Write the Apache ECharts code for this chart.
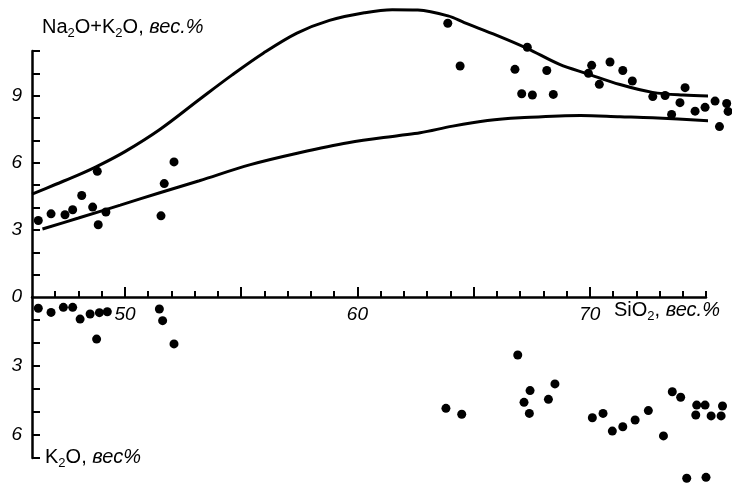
<!DOCTYPE html>
<html><head><meta charset="utf-8">
<script src="https://cdn.jsdelivr.net/npm/echarts@6/dist/echarts.min.js"></script>
<style>html,body{margin:0;padding:0;background:#fff}#c{width:732px;height:483px}</style>
</head><body><div id="c"></div>
<script>
// SiO2 (wt.%) vs Na2O+K2O (wt.%), upper panel
const upperPoints = [
  [46.27,3.42],[46.82,3.72],[47.42,3.68],[47.75,3.90],[48.14,4.54],[48.61,4.02],[48.81,5.62],[48.85,3.23],[49.18,3.80],
  [51.55,3.63],[51.69,5.07],[52.11,6.04],
  [63.89,12.24],[64.42,10.33],[66.78,10.18],[67.31,11.17],[68.15,10.13],[67.07,9.09],[67.53,9.03],[68.43,9.06],
  [70.08,10.36],[69.94,10.0],[70.87,10.51],[70.41,9.51],[71.42,10.13],[71.83,9.66],[72.71,8.96],[73.24,9.01],
  [74.10,9.36],[73.88,8.69],[73.52,8.16],[74.53,8.31],[74.96,8.48],[75.39,8.76],[75.89,8.65],[75.95,8.30],[75.58,7.62]
];
// SiO2 vs K2O (wt.%), lower panel (drawn downward)
const lowerPoints = [
  [46.27,0.49],[46.82,0.67],[47.35,0.45],[47.75,0.45],[48.07,0.96],[48.5,0.74],[48.9,0.68],[49.24,0.64],[48.78,1.83],
  [51.48,0.52],[51.62,1.03],[52.11,2.04],
  [63.81,4.84],[64.49,5.10],[66.90,2.52],[67.43,4.07],[67.17,4.58],[67.40,5.06],[68.22,4.45],[68.50,3.78],
  [70.11,5.25],[70.57,5.06],[70.97,5.83],[71.42,5.64],[71.95,5.35],[72.52,4.94],[73.17,6.04],[73.55,4.12],
  [73.91,4.36],[74.60,4.70],[74.96,4.70],[74.56,5.13],[75.22,5.17],[75.65,5.17],[75.71,4.74],[74.17,7.88],[75.0,7.84]
];
// boundary curves
const upperCurve = [
  [46,4.6],[47,5.03],[48,5.46],[48.8,5.84],[50,6.5],[51.5,7.49],[53.2,8.83],[54.6,9.92],[55.95,10.9],[57.4,11.8],
  [58.8,12.37],[60.3,12.71],[61.5,12.85],[62.6,12.83],[63.9,12.57],[64.6,12.27],[66,11.7],[67.3,11.12],[68.7,10.4],
  [69.9,9.98],[71.3,9.5],[72.7,9.15],[74,9.03],[75.5,8.98]
];
const lowerCurve = [
  [46.45,3.04],[48,3.53],[49.8,4.11],[51.5,4.66],[53.2,5.2],[55.4,5.92],[57.5,6.45],[59.6,6.9],[61.8,7.22],
  [62.7,7.34],[64.1,7.64],[65.6,7.89],[67,8.01],[69.6,8.12],[71.3,8.06],[72.7,8.01],[75.5,7.86]
];
const xMinorTicks = [47,48,49,51,52,53,54,56,57,58,59,61,62,63,64,66,67,68,69,71,72,73,74,75];
const xMajorTicks = [50,55,60,65,70];
const xLabels = [50,60,70];
const upperYTicks = [1,2,3,4,5,6,7,8,9,10,11];
const upperYLabels = [0,3,6,9];
const lowerYTicks = [1,2,3,4,5,6,7];
const lowerYLabels = [3,6];

const FONT = 'Liberation Sans';
const lab = {color:'#000', fontSize:19, fontStyle:'italic', fontFamily:FONT};
const axLine = {show:true, lineStyle:{color:'#000', width:2.5}};
const chart = echarts.init(document.getElementById('c'), null, {renderer:'canvas'});
const dot = {type:'scatter', symbol:'circle', symbolSize:9, itemStyle:{color:'#000', opacity:1}, clip:false, silent:true};
const curve = {type:'line', smooth:0.35, showSymbol:false, symbol:'none', clip:false, silent:true,
  lineStyle:{color:'#000', width:3}};
const rich = {
  m:{fontSize:20, fontFamily:FONT, lineHeight:26, verticalAlign:'middle'},
  i:{fontSize:20, fontFamily:FONT, fontStyle:'italic', lineHeight:26, verticalAlign:'middle'},
  s:{fontSize:13, fontFamily:FONT, lineHeight:13, verticalAlign:'bottom'}
};
chart.setOption({
  backgroundColor:'#fff',
  animation:false,
  grid:[
    {left:32, top:51, width:674, height:246, outerBoundsMode:'none'},
    {left:32, top:297, width:674, height:161, outerBoundsMode:'none'}
  ],
  xAxis:[
    {type:'value', gridIndex:0, min:46, max:75, position:'bottom', axisLine:axLine, splitLine:{show:false},
     axisTick:{show:true, inside:true, length:6, customValues:xMinorTicks, lineStyle:{color:'#000', width:2}},
     axisLabel:{show:true, customValues:xLabels, margin:8, ...lab}},
    {type:'value', gridIndex:0, min:46, max:75, position:'bottom', offset:0, axisLine:{show:false}, splitLine:{show:false},
     axisTick:{show:true, inside:true, length:10, customValues:xMajorTicks, lineStyle:{color:'#000', width:2}},
     axisLabel:{show:false}},
    {type:'value', gridIndex:1, min:46, max:75, show:false}
  ],
  yAxis:[
    {type:'value', gridIndex:0, min:0, max:11, axisLine:axLine, splitLine:{show:false},
     axisTick:{show:true, inside:true, length:8, customValues:upperYTicks, lineStyle:{color:'#000', width:2}},
     axisLabel:{show:true, customValues:upperYLabels, margin:10, ...lab}},
    {type:'value', gridIndex:1, min:0, max:7, inverse:true, axisLine:axLine, splitLine:{show:false},
     axisTick:{show:true, inside:true, length:8, customValues:lowerYTicks, lineStyle:{color:'#000', width:2}},
     axisLabel:{show:true, customValues:lowerYLabels, margin:10, ...lab}}
  ],
  graphic:[
    {type:'text', left:42, top:17, silent:true, style:{
      text:'{m|Na}{s|2}{m|O+K}{s|2}{m|O, }{i|вес.%}', fill:'#000', rich:rich}},
    {type:'text', left:614, top:300, silent:true, style:{
      text:'{m|SiO}{s|2}{m|, }{i|вес.%}', fill:'#000', rich:rich}},
    {type:'text', left:45, top:447, silent:true, style:{
      text:'{m|K}{s|2}{m|O, }{i|вес%}', fill:'#000', rich:rich}}
  ],
  series:[
    {...curve, xAxisIndex:0, yAxisIndex:0, data:upperCurve},
    {...curve, xAxisIndex:0, yAxisIndex:0, data:lowerCurve},
    {...dot, xAxisIndex:0, yAxisIndex:0, data:upperPoints},
    {...dot, xAxisIndex:2, yAxisIndex:1, data:lowerPoints}
  ]
});
</script></body></html>
